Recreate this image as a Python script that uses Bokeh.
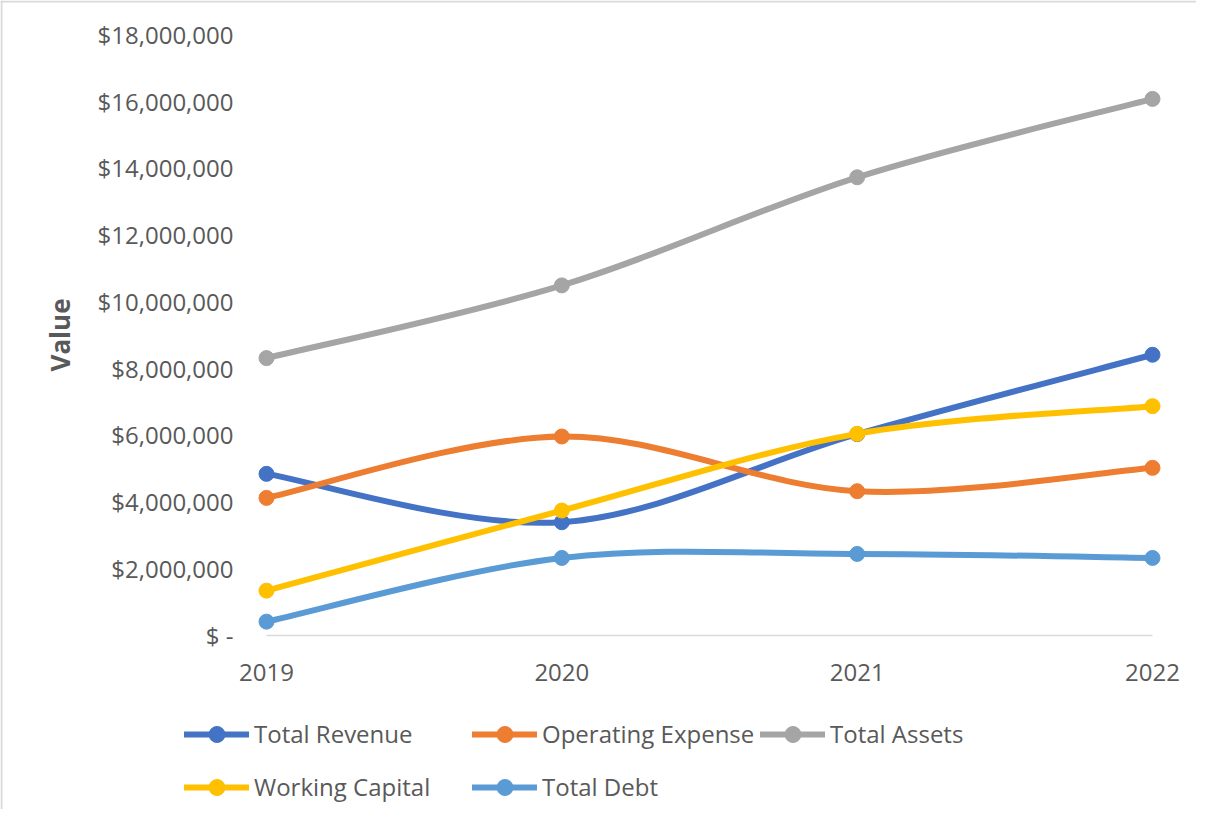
from bokeh.plotting import figure
from bokeh.models import Range1d, FixedTicker, CustomJSTickFormatter, Legend, LegendItem, ColumnDataSource, Span
from bokeh.embed import file_html
from bokeh.resources import INLINE

# ---- data ----
years = [2019, 2020, 2021, 2022]
total_revenue = [4_830_000, 3_380_000, 6_020_000, 8_400_000]
operating_expense = [4_110_000, 5_950_000, 4_310_000, 5_010_000]
total_assets = [8_300_000, 10_480_000, 13_720_000, 16_070_000]
working_capital = [1_330_000, 3_730_000, 6_030_000, 6_860_000]
total_debt = [400_000, 2_310_000, 2_430_000, 2_310_000]

series_names = ["Total Revenue", "Operating Expense", "Total Assets", "Working Capital", "Total Debt"]
series_values = [total_revenue, operating_expense, total_assets, working_capital, total_debt]
series_colors = ["#4472C4", "#ED7D31", "#A5A5A5", "#FFC000", "#5B9BD5"]
y_ticks = [0, 2_000_000, 4_000_000, 6_000_000, 8_000_000, 10_000_000,
           12_000_000, 14_000_000, 16_000_000, 18_000_000]

TEXT = "#595959"
FONT = "Open Sans"

W, H = 1196, 809
# pixel layout of the plot area (x of first/last year, y of 0 and of the top tick)
PX_FIRST, PX_LAST = 266.0, 1152.0
PY_ZERO, PY_TOP = 634.5, 34.0

x_scale = (PX_LAST - PX_FIRST) / (years[-1] - years[0])
y_scale = (PY_ZERO - PY_TOP) / (y_ticks[-1] - y_ticks[0])
x_start = years[0] - PX_FIRST / x_scale
x_end = years[-1] + (W - PX_LAST) / x_scale
y_end = y_ticks[-1] + PY_TOP / y_scale
y_start = y_ticks[0] - (H - PY_ZERO) / y_scale


def smooth_segments(xs, ys):
    """Cubic Bezier segments through the data points (Excel-like smoothing)."""
    n = len(xs)
    d = dict(x0=[], y0=[], x1=[], y1=[], cx0=[], cy0=[], cx1=[], cy1=[])
    for i in range(n - 1):
        xp, yp = (xs[i - 1], ys[i - 1]) if i > 0 else (xs[i], ys[i])
        xn, yn = (xs[i + 2], ys[i + 2]) if i + 2 < n else (xs[i + 1], ys[i + 1])
        d["x0"].append(xs[i]); d["y0"].append(ys[i])
        d["x1"].append(xs[i + 1]); d["y1"].append(ys[i + 1])
        d["cx0"].append(xs[i] + (xs[i + 1] - xp) / 6.0)
        d["cy0"].append(ys[i] + (ys[i + 1] - yp) / 6.0)
        d["cx1"].append(xs[i + 1] - (xn - xs[i]) / 6.0)
        d["cy1"].append(ys[i + 1] - (yn - ys[i]) / 6.0)
    return ColumnDataSource(d)


p = figure(width=W, height=H, output_backend="svg", toolbar_location=None,
           x_range=Range1d(x_start, x_end), y_range=Range1d(y_start, y_end),
           min_border=0, min_border_left=0, min_border_right=0,
           min_border_top=0, min_border_bottom=0,
           background_fill_color="white", border_fill_color="white")
p.outline_line_color = None
p.xgrid.visible = False
p.ygrid.visible = False

# chart-area border (left and top edges visible in the reference)
p.add_layout(Span(location=x_start + 1.0 / x_scale, dimension="height",
                  line_color="#D9D9D9", line_width=2))
p.add_layout(Span(location=y_end - 1.0 / y_scale, dimension="width",
                  line_color="#D9D9D9", line_width=2))

items = []
for name, vals, col in zip(series_names, series_values, series_colors):
    src = smooth_segments(years, vals)
    b = p.bezier(x0="x0", y0="y0", x1="x1", y1="y1", cx0="cx0", cy0="cy0", cx1="cx1", cy1="cy1",
                 source=src, line_color=col, line_width=6, line_cap="round")
    s = p.scatter(years, vals, size=15, marker="circle", fill_color=col, line_color=col)
    items.append(LegendItem(label=name, renderers=[b, s]))

# y axis (drawn just left of the first year)
ya = p.yaxis[0]
ya.fixed_location = years[0] - 30.0 / x_scale
ya.bounds = (y_ticks[0], y_ticks[-1])
ya.ticker = FixedTicker(ticks=y_ticks)
ya.formatter = CustomJSTickFormatter(code="""
    if (tick == 0) { return "$ -"; }
    return "$" + Math.round(tick).toLocaleString("en-US");
""")
ya.axis_line_color = None
ya.major_tick_line_color = None
ya.minor_tick_line_color = None
ya.major_tick_out = 0
ya.minor_tick_out = 0
ya.major_tick_in = 0
ya.major_label_standoff = 3
ya.major_label_text_font = FONT
ya.major_label_text_font_size = "24px"
ya.major_label_text_color = TEXT
ya.axis_label = "Value"
ya.axis_label_text_font = FONT
ya.axis_label_text_font_style = "bold"
ya.axis_label_text_font_size = "26px"
ya.axis_label_text_color = TEXT
ya.axis_label_standoff = 17

# x axis (baseline at zero)
xa = p.xaxis[0]
xa.fixed_location = 0
xa.ticker = FixedTicker(ticks=years)
xa.major_label_overrides = {y: str(y) for y in years}
xa.bounds = (years[0], years[-1])
xa.axis_line_color = "#D9D9D9"
xa.axis_line_width = 1.5
xa.major_tick_line_color = None
xa.minor_tick_line_color = None
xa.major_tick_out = 0
xa.minor_tick_out = 0
xa.major_tick_in = 0
xa.major_label_standoff = 29
xa.major_label_text_font = FONT
xa.major_label_text_font_size = "24px"
xa.major_label_text_color = TEXT

legend = Legend(items=items, location=(184, -4), orientation="horizontal", ncols=3,
                glyph_width=65, glyph_height=40, label_height=53, label_width=218,
                label_standoff=5, spacing=0, padding=0, margin=0,
                border_line_color=None, background_fill_alpha=0,
                label_text_font=FONT, label_text_font_size="24px", label_text_color=TEXT)
p.add_layout(legend, "center")

open("out.html", "w").write(file_html(p, INLINE))
